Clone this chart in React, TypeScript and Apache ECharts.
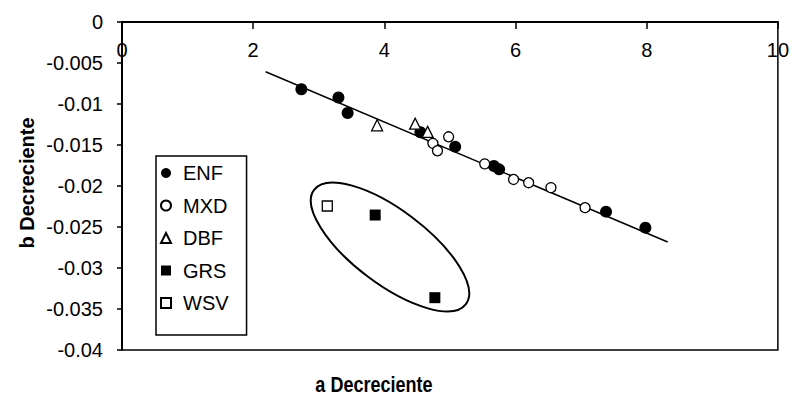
import React, { useEffect, useRef } from "react";
import * as echarts from "echarts";

// ---- data ----
const ENF: number[][] = [
  [2.735, -0.0082], [3.3, -0.0092], [3.44, -0.0111], [4.55, -0.01345],
  [5.08, -0.0152], [5.67, -0.01756], [5.75, -0.01797], [7.38, -0.02313], [7.98, -0.02508],
];
const MXD: number[][] = [
  [4.74, -0.0148], [4.81, -0.0157], [4.98, -0.014], [5.53, -0.0173],
  [5.97, -0.0192], [6.2, -0.0196], [6.54, -0.0202], [7.06, -0.02264],
];
const DBF: number[][] = [[3.89, -0.0126], [4.47, -0.0124], [4.66, -0.0134]];
const GRS: number[][] = [[3.86, -0.02354], [4.77, -0.03362]];
const WSV: number[][] = [[3.13, -0.02244]];
const FIT_LINE: number[][] = [[2.19, -0.00606], [8.32, -0.02683]];

const SERIES_NAMES = ["ENF", "MXD", "DBF", "GRS", "WSV"];
const X_TITLE = "a Decreciente";
const Y_TITLE = "b Decreciente";

const FONT = "'Liberation Sans', Arial, sans-serif";

export default function App() {
  const ref = useRef<HTMLDivElement>(null);
  useEffect(() => {
    if (!ref.current) return;
    const chart = echarts.init(ref.current, null, { renderer: "svg" });
    const open = { color: "#fff", borderColor: "#000", borderWidth: 1.3, opacity: 1 };
    const filled = { color: "#000", borderColor: "#000", borderWidth: 0, opacity: 1 };
    chart.setOption({
      animation: false,
      backgroundColor: "#fff",
      grid: {
        left: 122, right: 13, top: 22, bottom: 47,
        show: true, borderColor: "#000", borderWidth: 1.5, backgroundColor: "transparent",
      },
      xAxis: {
        type: "value", min: 0, max: 10, interval: 2, position: "top",
        axisLine: { show: true, onZero: false, lineStyle: { color: "#000", width: 2 } },
        axisTick: { show: true, inside: true, length: 7, lineStyle: { color: "#000", width: 1.5 } },
        axisLabel: { inside: true, margin: 18, color: "#000", fontSize: 20, fontFamily: FONT, showMinLabel: true, showMaxLabel: true },
        splitLine: { show: false },
      },
      yAxis: {
        type: "value", min: -0.04, max: 0, interval: 0.005,
        axisLine: { show: true, onZero: false, lineStyle: { color: "#000", width: 2 } },
        axisTick: { show: true, inside: false, length: 5, lineStyle: { color: "#000", width: 1.5 } },
        axisLabel: {
          margin: 19, color: "#000", fontSize: 20, fontFamily: FONT,
          formatter: (v: number) => String(Number(v.toFixed(3))),
        },
        splitLine: { show: false },
      },
      legend: {
        orient: "vertical", left: 156, top: 156,
        padding: [7, 18, 22, 4],
        borderColor: "#000", borderWidth: 1.5, backgroundColor: "#fff",
        itemWidth: 10, itemHeight: 10, itemGap: 12.5,
        textStyle: { color: "#000", fontSize: 20, fontFamily: FONT, lineHeight: 20, padding: [0, 0, 0, 7] },
        data: [
          { name: "ENF", icon: "circle" },
          { name: "MXD", icon: "circle" },
          { name: "DBF", icon: "triangle" },
          { name: "GRS", icon: "rect" },
          { name: "WSV", icon: "rect" },
        ],
      },
      graphic: [
        {
          type: "text", x: 27, y: 183, rotation: Math.PI / 2,
          style: { text: Y_TITLE, fill: "#000", font: `bold 20px ${FONT}`, align: "center", verticalAlign: "middle" },
        },
        {
          type: "text", x: 374, y: 384, scaleX: 0.82,
          style: { text: X_TITLE, fill: "#000", font: `bold 22px ${FONT}`, align: "center", verticalAlign: "middle" },
        },
        {
          type: "ellipse", x: 390, y: 247, rotation: -37 * Math.PI / 180, z: 10,
          shape: { cx: 0, cy: 0, rx: 95, ry: 37 },
          style: { fill: "none", stroke: "#000", lineWidth: 2 },
        },
      ],
      series: [
        {
          type: "line", data: FIT_LINE, showSymbol: false, symbol: "none", silent: true,
          lineStyle: { color: "#000", width: 1.5 }, z: 1,
        },
        { name: SERIES_NAMES[0], type: "scatter", data: ENF, symbol: "circle", symbolSize: 12, itemStyle: filled, z: 3 },
        { name: SERIES_NAMES[1], type: "scatter", data: MXD, symbol: "circle", symbolSize: 10, itemStyle: open, z: 3 },
        { name: SERIES_NAMES[2], type: "scatter", data: DBF, symbol: "triangle", symbolSize: 11, itemStyle: open, z: 4 },
        { name: SERIES_NAMES[3], type: "scatter", data: GRS, symbol: "rect", symbolSize: 11, itemStyle: filled, z: 3 },
        { name: SERIES_NAMES[4], type: "scatter", data: WSV, symbol: "rect", symbolSize: 10, itemStyle: open, z: 3 },
      ],
    });
    return () => chart.dispose();
  }, []);
  return (
    <div
      ref={ref}
      style={{ position: "fixed", left: 0, top: 0, width: 792, height: 397, background: "#fff" }}
    />
  );
}
